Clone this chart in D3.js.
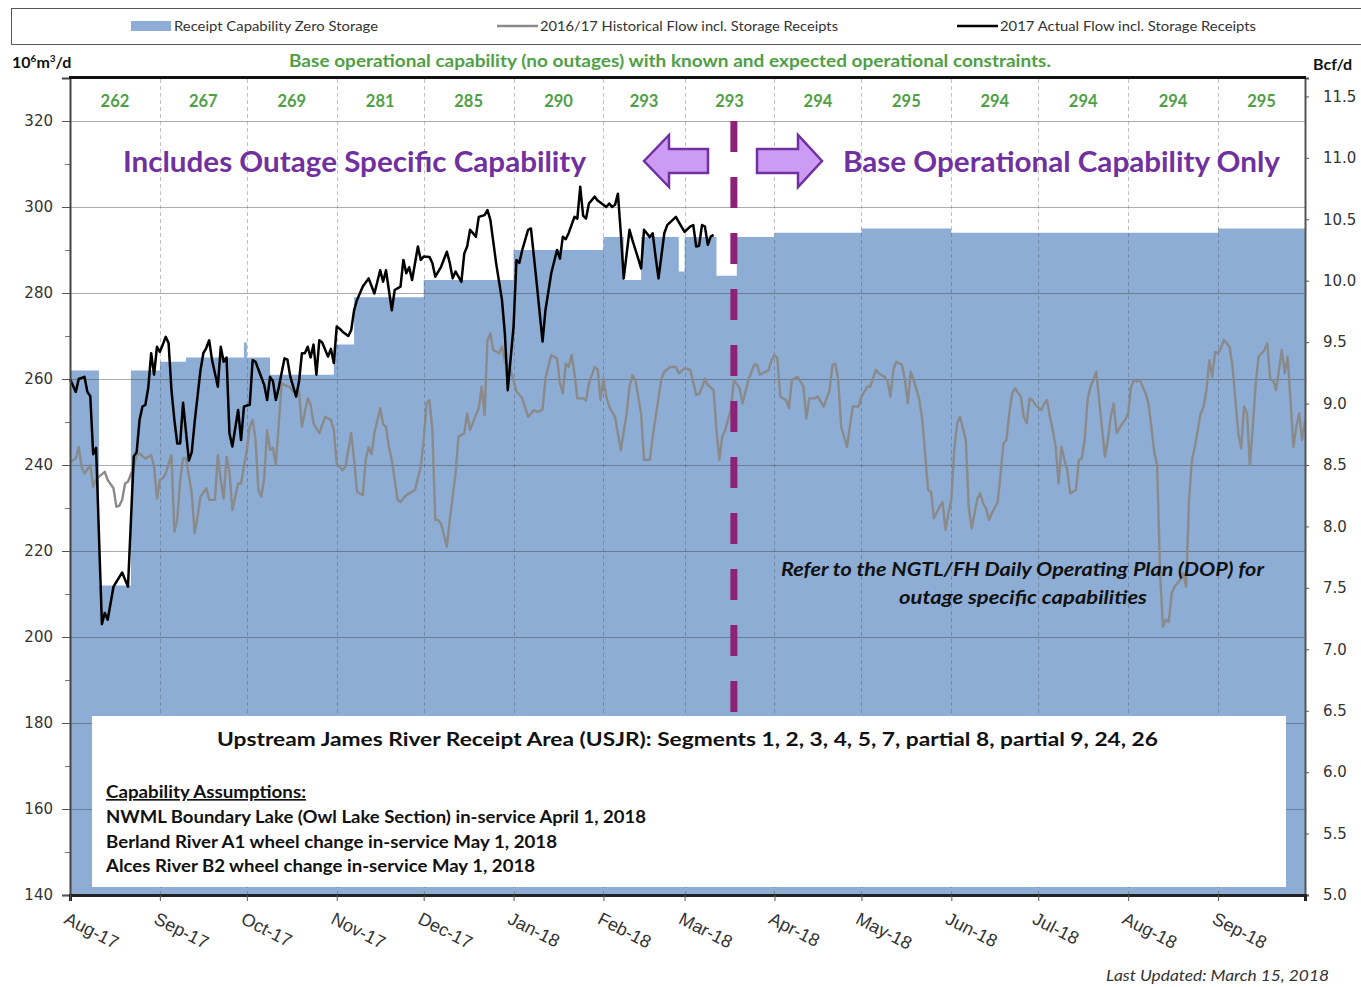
<!DOCTYPE html>
<html lang="en">
<head>
  <meta charset="UTF-8">
  <title>USJR Receipt Capability</title>
  <script src="https://cdnjs.cloudflare.com/ajax/libs/d3/7.8.5/d3.min.js"></script>
  <style>
    body { margin: 0; background: #fff; }
    svg { display: block; font-family: Lato, "Open Sans", sans-serif; }
  </style>
</head>
<body>
  <svg id="chart" width="1361" height="987"></svg>
  <script>
    // day numbers count from 2017-08-01
    const periodStart = Date.UTC(2017, 7, 1);
    const periodDays = 426;

    const monthLabels = ["Aug-17", "Sep-17", "Oct-17", "Nov-17", "Dec-17", "Jan-18", "Feb-18",
      "Mar-18", "Apr-18", "May-18", "Jun-18", "Jul-18", "Aug-18", "Sep-18"];
    const monthCapability = [262, 267, 269, 281, 285, 290, 293, 293, 294, 295, 294, 294, 294, 295];

    const leftTicks = [140, 160, 180, 200, 220, 240, 260, 280, 300, 320];
    const rightTicks = [5.0, 5.5, 6.0, 6.5, 7.0, 7.5, 8.0, 8.5, 9.0, 9.5, 10.0, 10.5, 11.0, 11.5];

    // receipt capability zero storage (10^6 m3/d), step changes
    const capabilitySteps = [[0, 262], [10, 212], [21, 262], [31, 264], [40, 265], [60, 268.5], [61, 265],
      [69, 261], [91, 268], [98, 279], [122, 283], [153, 290], [184, 293], [191, 283], [197, 293],
      [210, 285], [212, 293], [223, 284], [230, 293], [243, 294], [273, 295], [304, 294], [396, 295], [426, 295]];

    // 2017 actual flow incl. storage receipts
    const actualFlow = [[0, 260], [2, 257], [3, 260], [5, 260.5], [6, 257], [7, 256], [8, 242.5], [9, 244],
      [11, 203], [12, 205.6], [13, 204], [15, 211.7], [18, 215], [20, 211.7], [22, 242], [23, 243], [24, 250.5],
      [25, 253.6], [26, 254], [27, 258], [28, 266], [29, 261], [30, 267.5], [31, 266.3], [32, 268], [33, 269.8],
      [34, 268.4], [35, 257.4], [36, 250.5], [37, 245], [38, 245], [39, 254.5], [41, 241], [42, 243], [43, 250],
      [45, 262], [46, 266], [47, 267.2], [48, 269], [49, 264.4], [51, 258.2], [52, 267.5], [53, 264], [54, 265],
      [55, 247.4], [56, 244.3], [58, 252.8], [59, 245.8], [60, 253.6], [62, 254], [63, 264.4], [64, 264],
      [67, 258.6], [68, 255.1], [69, 260.5], [70, 259.5], [71, 255.1], [72, 258], [74, 264.8], [75, 264.5],
      [76, 260.5], [78, 255.9], [79, 259.4], [80, 266], [81, 266], [82, 267.5], [83, 265], [84, 268], [85, 261],
      [86, 269], [87, 268.5], [89, 265.2], [90, 267], [91, 263.7], [92, 272.2], [93, 271.7], [94, 271], [96, 270],
      [97, 271.4], [98, 276], [99, 278.4], [101, 281.5], [103, 283.4], [105, 279.9], [107, 285.3], [108, 282.6],
      [109, 285.3], [111, 276], [112, 280.7], [114, 281.5], [115, 287.7], [116, 284.6], [117, 286], [118, 283],
      [120, 290.8], [121, 287.7], [122, 288.5], [124, 288.4], [125, 286.9], [126, 283.8], [128, 286.1],
      [130, 289.6], [131, 287], [132, 283.4], [133, 285], [135, 282.6], [136, 289.2], [137, 290.8], [138, 294.7],
      [140, 293.1], [141, 297.7], [143, 298.1], [144, 299.3], [145, 297], [147, 286.9], [149, 278.4],
      [150, 270.6], [151, 257.4], [153, 272.2], [154, 287.7], [155, 287], [156, 290], [158, 294.7], [159, 295],
      [161, 282.2], [163, 268.7], [164, 276], [166, 284.6], [168, 290], [169, 288], [170, 293.1], [171, 292.5],
      [172, 293.9], [174, 297.7], [175, 297.3], [176, 304.7], [177, 298], [178, 297.3], [179, 300.8],
      [181, 302.4], [182, 301.5], [184, 300.5], [185, 300], [186, 300.8], [187, 300], [188, 300.5], [189, 303.1],
      [190, 293.9], [191, 283.4], [193, 294.7], [194, 292.3], [196, 288], [197, 285.7], [198, 294.7], [200, 293],
      [201, 293.9], [202, 288.4], [203, 283.4], [205, 293.9], [206, 295.8], [209, 297.7], [210, 296.5],
      [212, 294.2], [214, 295.5], [215, 295.8], [216, 290.8], [217, 291], [218, 295.8], [219, 295.5],
      [220, 291.2], [221, 293.1], [222, 293.5]];

    // 2016/17 historical flow incl. storage receipts
    const historicalFlow = [[0, 240.7], [2, 241.5], [3, 244.2], [4, 239.6], [5, 238], [7, 240], [8, 235],
      [9, 236.5], [10, 237.3], [12, 238.4], [13, 236.5], [15, 234.6], [16, 230.3], [17, 230.5], [18, 231.9],
      [19, 235.7], [20, 236.1], [22, 239.6], [23, 242.3], [24, 242.7], [26, 241.5], [28, 242.3], [29, 239.6],
      [30, 232.2], [31, 236.5], [32, 236.9], [33, 238], [35, 242.3], [36, 224.5], [37, 227.2], [38, 236.5],
      [39, 241.5], [40, 241.6], [42, 233.4], [43, 224.1], [44, 228], [45, 232.6], [47, 234.6], [48, 231.9],
      [50, 231.9], [51, 242.3], [52, 236.5], [53, 232.2], [54, 241.9], [55, 238.4], [56, 229.5], [58, 235.7],
      [59, 235.7], [60, 239.6], [61, 243.5], [62, 248.9], [63, 250.5], [64, 245.8], [65, 234.2], [66, 232.6],
      [67, 237], [68, 248.1], [69, 243.5], [70, 244], [71, 240], [73, 259], [76, 258], [77, 257], [79, 257],
      [80, 248.9], [82, 255.5], [83, 254], [84, 249.7], [86, 247.4], [88, 251.2], [90, 250.5], [91, 248.1],
      [92, 240.4], [94, 238.8], [95, 239.6], [97, 247.4], [98, 241.2], [99, 233.8], [101, 233], [102, 241.2],
      [103, 244.2], [104, 242.5], [105, 247.4], [107, 253.2], [108, 249.5], [109, 248.9], [110, 244.2],
      [111, 241.2], [113, 231.9], [114, 231.4], [116, 233], [118, 233.8], [119, 234.2], [121, 239.6],
      [122, 245.8], [123, 254.3], [124, 255.1], [125, 248.1], [126, 227.2], [127, 227.2], [128, 226.4],
      [130, 221], [131, 227.2], [133, 238], [134, 246.6], [136, 247.4], [137, 252], [138, 248.1], [140, 251.6],
      [141, 253.2], [142, 258.2], [143, 251.6], [144, 269.1], [145, 270.6], [146, 266.7], [147, 266.4],
      [148, 266], [149, 267.5], [150, 264], [152, 262.1], [154, 257.1], [156, 255.5], [158, 251.2],
      [160, 252.8], [161, 252.4], [162, 252.5], [163, 253], [164, 260.1], [166, 265.6], [168, 264.8],
      [169, 259], [170, 256.7], [171, 263.6], [172, 262.8], [173, 265.6], [174, 261.3], [175, 255.5],
      [177, 255.5], [178, 255], [179, 259], [181, 262.8], [182, 262.3], [183, 255.1], [184, 260.1],
      [185, 255.9], [186, 253.6], [188, 251.2], [189, 247.4], [190, 243.5], [192, 252], [193, 258.2],
      [194, 260.9], [195, 259.8], [197, 252], [198, 241.2], [200, 241.2], [201, 246.6], [204, 260.1],
      [205, 261.7], [207, 262.8], [209, 262.8], [210, 261.3], [212, 262.5], [214, 262.1], [216, 256.3],
      [217, 256.5], [218, 258], [219, 260.1], [220, 258.6], [222, 257.4], [223, 248.1], [224, 241.2],
      [225, 246.6], [226, 248.1], [228, 253], [229, 259.8], [231, 257.8], [232, 254.3], [234, 259.8],
      [236, 263.3], [237, 263.3], [238, 261], [240, 261.7], [241, 262.1], [242, 264.4], [243, 265.6],
      [244, 264.8], [245, 255.9], [247, 255.1], [248, 253.2], [249, 259.8], [251, 260.5], [252, 259.4],
      [253, 258.2], [254, 250.8], [255, 255.5], [257, 255.5], [258, 255.9], [259, 254.7], [260, 253.6],
      [262, 257.4], [263, 263.3], [264, 263.6], [265, 259.8], [266, 248.9], [268, 244.2], [269, 248.9],
      [270, 253.6], [272, 253.6], [273, 255.9], [275, 258.2], [276, 258.2], [278, 262.1], [279, 261.3],
      [281, 260.5], [282, 259.5], [283, 255.9], [284, 262.1], [285, 264], [287, 263.3], [288, 259.8],
      [289, 254.3], [290, 261.7], [291, 259.8], [292, 257.5], [293, 255.1], [294, 250.5], [296, 234.2],
      [297, 233.8], [298, 227.6], [300, 230.3], [301, 231.4], [302, 224.9], [303, 228.8], [304, 231.9],
      [305, 243.5], [306, 249.7], [307, 251.2], [309, 245.8], [310, 230.3], [311, 225.2], [313, 232.2],
      [314, 233.4], [315, 231], [316, 229.9], [317, 227.2], [318, 228.8], [320, 231.4], [321, 238], [322, 245],
      [323, 245.8], [324, 252], [325, 256.7], [326, 257.8], [328, 255.9], [329, 251.2], [330, 249.7],
      [331, 255.5], [332, 255.1], [333, 254], [335, 252.8], [336, 254.2], [337, 255.1], [338, 251.2],
      [339, 248.1], [340, 244.2], [341, 235.7], [342, 244.2], [343, 241.2], [344, 238.8], [345, 233.4],
      [347, 234.2], [348, 241.2], [349, 241.5], [350, 245.8], [351, 255.1], [352, 258.2], [353, 259.8],
      [354, 261.7], [355, 255.1], [357, 241.9], [358, 245.8], [359, 251.2], [360, 254.3], [361, 247.4],
      [363, 249.7], [364, 250.5], [365, 252], [366, 258.2], [367, 259.8], [368, 259.4], [369, 259.8],
      [371, 256.7], [372, 254.3], [373, 248.9], [374, 243], [375, 240], [376, 215], [377, 202.4], [378, 204],
      [379, 203.5], [380, 210.1], [381, 211.7], [383, 213.3], [384, 214.8], [385, 211.7], [386, 231.9],
      [387, 241.2], [388, 244.2], [390, 252], [391, 253.5], [392, 257.4], [393, 264.4], [394, 260.5],
      [395, 266.3], [396, 266], [397, 267.1], [398, 269.1], [400, 267.5], [401, 262.8], [402, 255.1],
      [403, 247.4], [404, 243.9], [405, 253.6], [406, 252], [407, 240], [408, 248.9], [409, 259], [410, 265.2],
      [412, 266.7], [413, 268.3], [414, 259.8], [415, 259.8], [416, 257.4], [418, 266.7], [419, 261.3],
      [420, 265.2], [421, 255.1], [422, 244.2], [423, 248.9], [424, 252], [425, 245.8], [426, 250.5]];

    const forecastDay = 229; // split between outage-specific and base capability

    const areaColor = "#8dadd5";
    const green = "#4f9f45";
    const purple = "#7030a0";

    const svg = d3.select("#chart");
    const day = d => new Date(periodStart + d * 864e5);

    const x = d3.scaleUtc().domain([day(0), day(periodDays)]).range([70, 1305]);
    const y = d3.scaleLinear().domain([140, 330]).range([895, 78]);
    const yR = d3.scaleLinear().domain([5, 11.65]).range([895, 78]);
    const months = d3.utcMonth.range(day(0), day(periodDays));

    // legend box
    const legend = svg.append("g");
    legend.append("rect").attr("x", 11.5).attr("y", 8.5).attr("width", 1360).attr("height", 36)
      .attr("fill", "#fff").attr("stroke", "#555");
    legend.append("rect").attr("x", 131).attr("y", 21).attr("width", 40).attr("height", 10).attr("fill", areaColor);
    legend.append("line").attr("x1", 497).attr("x2", 538).attr("y1", 26).attr("y2", 26)
      .attr("stroke", "#8a8a8a").attr("stroke-width", 2.5);
    legend.append("line").attr("x1", 957).attr("x2", 998).attr("y1", 26).attr("y2", 26)
      .attr("stroke", "#000").attr("stroke-width", 2.5);
    [[174, 204, "Receipt Capability Zero Storage"],
     [540, 298, "2016/17 Historical Flow incl. Storage Receipts"],
     [1000, 256, "2017 Actual Flow incl. Storage Receipts"]].forEach(([lx, len, t]) => {
      legend.append("text").attr("x", lx).attr("y", 30.5).attr("font-size", 13).attr("fill", "#333")
        .attr("textLength", len).attr("lengthAdjust", "spacingAndGlyphs").text(t);
    });

    // capability area
    const area = d3.area().curve(d3.curveStepAfter)
      .x(d => x(day(d[0]))).y0(y(140)).y1(d => y(d[1]));
    svg.append("path").datum(capabilitySteps).attr("d", area).attr("fill", areaColor);

    // gridlines
    const grid = svg.append("g").attr("stroke", "rgba(60,60,60,0.42)");
    grid.selectAll("line.h").data(leftTicks.filter(v => v > 140)).join("line")
      .attr("x1", 70).attr("x2", 1305).attr("y1", d => y(d) + 0.5).attr("y2", d => y(d) + 0.5);
    grid.selectAll("line.v").data(months.slice(1)).join("line")
      .attr("x1", d => Math.round(x(d)) + 0.5).attr("x2", d => Math.round(x(d)) + 0.5)
      .attr("y1", 79).attr("y2", 895).attr("stroke-dasharray", "4,3").attr("stroke-opacity", 0.75);

    // flow lines
    const line = d3.line().x(d => x(day(d[0]))).y(d => y(d[1]));
    svg.append("path").datum(historicalFlow).attr("d", line).attr("fill", "none")
      .attr("stroke", "#8a8a8a").attr("stroke-width", 2.4).attr("stroke-linejoin", "round");
    svg.append("path").datum(actualFlow).attr("d", line).attr("fill", "none")
      .attr("stroke", "#000").attr("stroke-width", 2.5).attr("stroke-linejoin", "round");

    // notes box
    svg.append("rect").attr("x", 92).attr("y", 716).attr("width", 1194).attr("height", 171).attr("fill", "#fff");
    svg.append("text").attr("x", 217).attr("y", 746).attr("font-size", 19.5).attr("font-weight", "bold")
      .attr("fill", "#111").attr("textLength", 941).attr("lengthAdjust", "spacingAndGlyphs")
      .text("Upstream James River Receipt Area (USJR):  Segments 1, 2, 3, 4, 5, 7, partial 8, partial 9, 24, 26");
    svg.append("text").attr("x", 106).attr("y", 798).attr("font-size", 16.5).attr("font-weight", "bold")
      .attr("fill", "#111").attr("text-decoration", "underline")
      .attr("textLength", 200).attr("lengthAdjust", "spacingAndGlyphs").text("Capability Assumptions:");
    [[823, 540, "NWML Boundary Lake (Owl Lake Section) in-service April 1, 2018"],
     [848, 451, "Berland River A1 wheel change in-service May 1, 2018"],
     [872, 429, "Alces River B2 wheel change in-service May 1, 2018"]].forEach(([ty, len, t]) => {
      svg.append("text").attr("x", 106).attr("y", ty).attr("font-size", 16.5).attr("font-weight", "bold")
        .attr("fill", "#111").attr("textLength", len).attr("lengthAdjust", "spacingAndGlyphs").text(t);
    });

    // DOP note
    svg.append("text").attr("x", 781).attr("y", 576).attr("font-size", 19).attr("font-weight", "bold")
      .attr("font-style", "italic").attr("fill", "#111").attr("textLength", 483).attr("lengthAdjust", "spacingAndGlyphs")
      .text("Refer to the NGTL/FH Daily Operating Plan (DOP) for");
    svg.append("text").attr("x", 899).attr("y", 604).attr("font-size", 19).attr("font-weight", "bold")
      .attr("font-style", "italic").attr("fill", "#111").attr("textLength", 248).attr("lengthAdjust", "spacingAndGlyphs")
      .text("outage specific capabilities");

    // forecast divider
    svg.append("line").attr("x1", x(day(forecastDay))).attr("x2", x(day(forecastDay)))
      .attr("y1", y(320)).attr("y2", 716).attr("stroke", "#8e2178").attr("stroke-width", 7)
      .attr("stroke-dasharray", "31,25");

    // purple headings and arrows
    svg.append("text").attr("x", 123).attr("y", 172).attr("font-size", 29).attr("font-weight", "bold")
      .attr("fill", purple).attr("textLength", 463).attr("lengthAdjust", "spacingAndGlyphs")
      .text("Includes Outage Specific Capability");
    svg.append("text").attr("x", 843).attr("y", 172).attr("font-size", 29).attr("font-weight", "bold")
      .attr("fill", purple).attr("textLength", 437).attr("lengthAdjust", "spacingAndGlyphs")
      .text("Base Operational Capability Only");
    svg.append("polygon")
      .attr("points", "644,161 669,135 669,149 708,149 708,173 669,173 669,187")
      .attr("fill", "#cc9cf5").attr("stroke", purple).attr("stroke-width", 2.5);
    svg.append("polygon")
      .attr("points", "757,149 798,149 798,135 822,161 798,187 798,173 757,173")
      .attr("fill", "#cc9cf5").attr("stroke", purple).attr("stroke-width", 2.5);

    // monthly base capability labels
    svg.append("g").selectAll("text").data(months).join("text")
      .attr("x", (d, i) => (x(d) + x(d3.utcMonth.offset(d, 1))) / 2).attr("y", 107)
      .attr("text-anchor", "middle").attr("font-size", 16.5).attr("font-weight", "bold").attr("fill", green)
      .text((d, i) => monthCapability[i]);

    svg.append("text").attr("x", 670).attr("y", 67).attr("text-anchor", "middle")
      .attr("font-size", 16.5).attr("font-weight", "bold").attr("fill", green)
      .attr("textLength", 762).attr("lengthAdjust", "spacingAndGlyphs")
      .text("Base operational capability (no outages) with known and expected operational constraints.");

    // unit labels
    const unit = svg.append("text").attr("x", 12).attr("y", 68).attr("font-size", 16).attr("font-weight", "bold").attr("fill", "#111");
    unit.append("tspan").text("10");
    unit.append("tspan").attr("dy", -6).attr("font-size", 10).text("6");
    unit.append("tspan").attr("dy", 6).text("m");
    unit.append("tspan").attr("dy", -6).attr("font-size", 10).text("3");
    unit.append("tspan").attr("dy", 6).text("/d");
    svg.append("text").attr("x", 1313).attr("y", 70).attr("font-size", 16).attr("font-weight", "bold")
      .attr("fill", "#111").text("Bcf/d");

    // axes
    const styleAxis = g => {
      g.selectAll("text").attr("font-family", "'DejaVu Sans', sans-serif").attr("font-size", 15).attr("fill", "#333");
      g.selectAll(".tick line").attr("stroke", "#555");
    };
    svg.append("g").attr("transform", "translate(70,0)")
      .call(d3.axisLeft(y).tickValues(d3.range(150, 330, 20)).tickSize(5).tickFormat(""))
      .call(g => g.select(".domain").remove())
      .call(g => g.selectAll(".tick line").attr("stroke", "#777"));
    svg.append("g").attr("transform", "translate(70,0)")
      .call(d3.axisLeft(y).tickValues(leftTicks).tickSize(8).tickPadding(9))
      .call(styleAxis)
      .call(g => g.select(".domain").attr("stroke", "#444").attr("stroke-width", 2));
    svg.append("g").attr("transform", "translate(1305,0)")
      .call(d3.axisRight(yR).tickValues(rightTicks).tickSize(4).tickPadding(14).tickFormat(d3.format(".1f")))
      .call(styleAxis)
      .call(g => g.select(".domain").attr("stroke", "#555").attr("stroke-width", 2));
    svg.append("g").attr("transform", "translate(0,895)")
      .call(d3.axisBottom(x).tickValues(months).tickSize(6).tickFormat((d, i) => monthLabels[i]))
      .call(g => g.select(".domain").attr("stroke", "#222").attr("stroke-width", 3))
      .call(g => g.selectAll(".tick line").attr("stroke", "#555"))
      .call(g => g.selectAll("text").attr("font-size", 18).attr("fill", "#333")
        .attr("text-anchor", "start").attr("x", 0).attr("y", 0).attr("dy", "0.8em")
        .attr("transform", "translate(-1,15) rotate(27)"));

    // top frame
    svg.append("line").attr("x1", 69).attr("x2", 1306).attr("y1", 77.5).attr("y2", 77.5)
      .attr("stroke", "#111").attr("stroke-width", 3);

    svg.append("text").attr("x", 1106).attr("y", 981).attr("font-size", 15).attr("font-style", "italic")
      .attr("fill", "#333").attr("textLength", 223).attr("lengthAdjust", "spacingAndGlyphs")
      .text("Last Updated: March 15, 2018");
  </script>
</body>
</html>
